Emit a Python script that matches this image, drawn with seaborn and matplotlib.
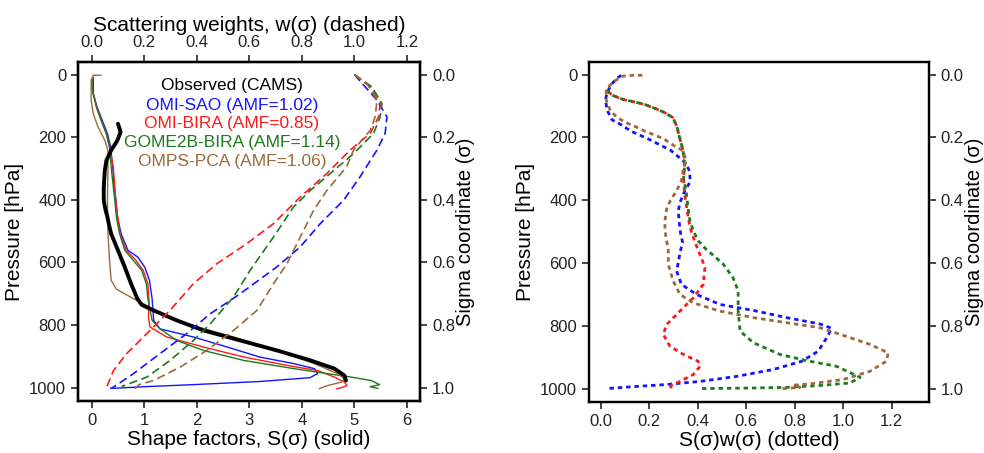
import numpy as np
import matplotlib
matplotlib.use("Agg")
import matplotlib.pyplot as plt
import seaborn as sns

sns.set_style("ticks")
plt.rcParams['font.family'] = ['Liberation Sans', 'DejaVu Sans']

# ---- shape factors S(sigma), solid lines (left panel, bottom axis) ----
obs_p = [157, 183, 210, 242, 274, 306, 359, 402, 430, 455, 480, 508, 561, 615, 668, 716, 735,
         753, 785, 817, 849, 881, 913, 939, 961, 977]
obs_S = [0.50, 0.55, 0.49, 0.37, 0.28, 0.25, 0.23, 0.23, 0.26, 0.30, 0.33, 0.37, 0.50, 0.63,
         0.75, 0.87, 0.95, 1.18, 1.62, 2.13, 2.83, 3.53, 4.17, 4.62, 4.81, 4.84]

sao_p = [10, 61, 103, 146, 189, 231, 295, 359, 402, 455, 508, 561, 583, 615, 657, 716, 785,
         812, 838, 870, 902, 923, 939, 955, 968, 980, 990, 997, 1002]
sao_S = [0.03, 0.03, 0.10, 0.20, 0.30, 0.36, 0.40, 0.43, 0.46, 0.49, 0.56, 0.69, 0.88, 1.01,
         1.10, 1.15, 1.18, 1.30, 1.94, 2.58, 3.20, 3.85, 4.24, 4.30, 4.15, 3.20, 1.94, 0.95, 0.40]

bira_p = [10, 29, 61, 103, 146, 189, 231, 295, 359, 423, 508, 561, 593, 625, 668, 721, 775,
          806, 838, 870, 902, 929, 945, 966, 982, 993, 1000, 1003]
bira_S = [0.03, 0.00, 0.03, 0.09, 0.18, 0.28, 0.34, 0.41, 0.44, 0.47, 0.54, 0.66, 0.84, 0.98,
          1.07, 1.09, 1.08, 1.11, 1.43, 2.13, 2.90, 3.73, 4.30, 4.62, 4.81, 4.86, 4.75, 4.66]

gome_p = [10, 29, 61, 103, 146, 189, 231, 295, 402, 455, 508, 561, 593, 625, 668, 716, 785,
          812, 849, 881, 913, 939, 955, 966, 977, 990, 997, 1002]
gome_S = [0.03, 0.00, 0.03, 0.09, 0.18, 0.28, 0.34, 0.37, 0.44, 0.47, 0.53, 0.63, 0.79, 0.95,
          1.04, 1.07, 1.15, 1.30, 1.62, 2.13, 2.90, 3.85, 4.49, 4.94, 5.32, 5.48, 5.30, 5.45]

omps_p = [2, 2, 18, 82, 125, 167, 210, 242, 295, 402, 508, 593, 657, 685, 705, 732, 764, 796,
          838, 881, 923, 955, 971, 982, 993, 1003]
omps_S = [0.18, 0.03, -0.01, -0.01, 0.03, 0.12, 0.25, 0.31, 0.31, 0.30, 0.31, 0.34, 0.37, 0.47,
          0.68, 0.99, 1.30, 1.82, 2.70, 3.54, 4.24, 4.68, 4.81, 4.75, 4.49, 4.33]

# ---- scattering weights w(sigma), dashed lines (left panel, top axis) ----
sao_wp = [0, 82, 135, 188, 241, 326, 401, 476, 550, 614, 700, 764, 827, 891, 955, 998, 1003]
sao_w = [1.00, 1.086, 1.124, 1.117, 1.086, 1.022, 0.959, 0.870, 0.794, 0.705, 0.565, 0.451,
         0.362, 0.260, 0.159, 0.083, 0.070]

bira_wp = [0, 39, 93, 135, 188, 241, 316, 391, 476, 540, 604, 668, 753, 827, 891, 945, 998]
bira_w = [1.00, 1.06, 1.098, 1.092, 1.06, 0.984, 0.895, 0.794, 0.692, 0.590, 0.476, 0.387,
          0.298, 0.210, 0.133, 0.083, 0.057]

gome_wp = [0, 39, 93, 135, 188, 252, 316, 370, 423, 519, 625, 710, 796, 849, 913, 966, 996]
gome_w = [1.00, 1.067, 1.105, 1.098, 1.073, 0.997, 0.908, 0.832, 0.768, 0.692, 0.603, 0.540,
          0.451, 0.387, 0.298, 0.210, 0.114]

omps_wp = [0, 29, 82, 135, 178, 241, 295, 370, 433, 519, 604, 668, 753, 817, 881, 934, 977,
           990, 1003]
omps_w = [1.00, 1.048, 1.086, 1.079, 1.060, 0.997, 0.970, 0.895, 0.845, 0.794, 0.743, 0.692,
          0.629, 0.540, 0.438, 0.337, 0.235, 0.180, 0.165]

# ---- S(sigma)*w(sigma), dotted lines (right panel) ----
sao_sp = [2, 10, 30, 60, 82, 114, 144, 162, 180, 194, 208, 226, 240, 260, 284, 311, 343, 370,
          407, 434, 471, 503, 535, 567, 599, 625, 668, 700, 732, 751, 774, 794, 808, 838, 881,
          913, 939, 961, 977, 987, 993, 1000]
sao_sw = [0.085, 0.07, 0.045, 0.025, 0.02, 0.027, 0.047, 0.09, 0.124, 0.165, 0.205, 0.25, 0.287,
          0.318, 0.353, 0.368, 0.368, 0.347, 0.327, 0.32, 0.324, 0.329, 0.338, 0.327, 0.32, 0.313,
          0.333, 0.395, 0.492, 0.63, 0.767, 0.904, 0.953, 0.932, 0.897, 0.829, 0.712, 0.561, 0.41,
          0.272, 0.148, 0.022]

bira_sp = [55, 66, 79, 87, 95, 107, 121, 137, 167, 199, 236, 268, 300, 332, 370, 402, 434, 471,
           503, 535, 567, 599, 615, 668, 711, 753, 796, 827, 865, 891, 913, 929, 955, 977, 989,
           1000]
bira_sw = [0.03, 0.05, 0.092, 0.14, 0.182, 0.222, 0.264, 0.298, 0.315, 0.325, 0.338, 0.345,
           0.345, 0.342, 0.345, 0.35, 0.357, 0.365, 0.375, 0.39, 0.406, 0.423, 0.43, 0.423, 0.382,
           0.327, 0.272, 0.258, 0.286, 0.341, 0.402, 0.41, 0.382, 0.327, 0.293, 0.286]

gome_sp = [48, 66, 79, 87, 95, 107, 121, 137, 167, 199, 236, 268, 300, 332, 370, 402, 434, 465,
           497, 529, 556, 577, 604, 647, 689, 753, 817, 854, 891, 911, 929, 964, 982, 990, 996,
           998, 1000]
gome_sw = [0.023, 0.05, 0.092, 0.14, 0.182, 0.222, 0.264, 0.298, 0.315, 0.325, 0.338, 0.345,
           0.345, 0.342, 0.352, 0.357, 0.362, 0.368, 0.382, 0.402, 0.434, 0.467, 0.506, 0.546,
           0.567, 0.567, 0.575, 0.63, 0.739, 0.85, 0.973, 1.07, 1.028, 0.904, 0.767, 0.63, 0.41]

omps_sp = [2, 2, 5, 24, 48, 82, 114, 135, 153, 167, 181, 194, 208, 226, 242, 274, 305, 338, 370,
           400, 428, 465, 497, 529, 561, 604, 657, 700, 727, 753, 774, 790, 806, 827, 859, 886,
           913, 945, 971, 985, 989, 996, 1001]
omps_sw = [0.172, 0.133, 0.09, 0.05, 0.023, 0.023, 0.04, 0.065, 0.105, 0.147, 0.184, 0.229,
           0.267, 0.302, 0.339, 0.353, 0.34, 0.333, 0.313, 0.288, 0.272, 0.265, 0.265, 0.272,
           0.279, 0.279, 0.299, 0.327, 0.382, 0.492, 0.63, 0.767, 0.904, 0.987, 1.11, 1.186,
           1.178, 1.11, 1.0, 0.862, 0.795, 0.822, 0.732]

names = ['OMI-SAO', 'OMI-BIRA', 'GOME2B-BIRA', 'OMPS-PCA']
amf = [1.02, 0.85, 1.14, 1.06]
colors = ['#1414ff', '#ff1a1a', '#1d7a1d', '#9b6a3c']

ylim = (1042, -40)
txt = '#222222'

fig = plt.figure(figsize=(9.84, 4.53), dpi=100)
ax1 = fig.add_axes([0.0793, 0.115, 0.3476, 0.748])
ax2 = fig.add_axes([0.5986, 0.113, 0.3455, 0.750])
ax1_top = ax1.twiny()
ax1_r = ax1.twinx()
ax2_r = ax2.twinx()

# left panel: shape factors (solid)
solid = [(sao_S, sao_p), (bira_S, bira_p), (gome_S, gome_p), (omps_S, omps_p)]
for (x, y), c in zip(solid, colors):
    sns.lineplot(x=x, y=y, ax=ax1, sort=False, estimator=None, color=c, lw=1.0)
sns.lineplot(x=obs_S, y=obs_p, ax=ax1, sort=False, estimator=None, color='black', lw=2.8)

# left panel: scattering weights (dashed)
dashed = [(sao_w, sao_wp), (bira_w, bira_wp), (gome_w, gome_wp), (omps_w, omps_wp)]
for (x, y), c in zip(dashed, colors):
    sns.lineplot(x=x, y=y, ax=ax1_top, sort=False, estimator=None, color=c, lw=1.2,
                 linestyle=(0, (5, 2.6)))

# right panel: S*w (dotted)
dotted = [(sao_sw, sao_sp), (bira_sw, bira_sp), (gome_sw, gome_sp), (omps_sw, omps_sp)]
for (x, y), c in zip(dotted, colors):
    sns.lineplot(x=x, y=y, ax=ax2, sort=False, estimator=None, color=c, lw=2.0,
                 linestyle=(0, (1.6, 1.4)))

# legend as coloured text
ax1.text(0.45, 0.932, 'Observed (CAMS)', transform=ax1.transAxes, ha='center', va='center',
         fontsize=12.5, color='black')
for i, (n, a, c) in enumerate(zip(names, amf, colors)):
    ax1.text(0.45, 0.873 - i * 0.0555, f'{n} (AMF={a:.2f})', transform=ax1.transAxes,
             ha='center', va='center', fontsize=12.5, color=c)

# axes limits and ticks
ax1.set_xlim(-0.26, 6.25)
ax1_top.set_xlim(-0.052, 1.25)
ax2.set_xlim(-0.048, 1.354)
for a in (ax1, ax1_top, ax2):
    a.set_ylim(*ylim)
ax1_r.set_ylim(ylim[0] / 1000, ylim[1] / 1000)
ax2_r.set_ylim(ylim[0] / 1000, ylim[1] / 1000)

ax1.set_xticks(range(0, 7))
ax1_top.set_xticks(np.arange(0, 1.21, 0.2))
ax1_top.set_xticklabels([f'{v:.1f}' for v in np.arange(0, 1.21, 0.2)])
ax2.set_xticks(np.arange(0, 1.21, 0.2))
ax2.set_xticklabels([f'{v:.1f}' for v in np.arange(0, 1.21, 0.2)])
for a in (ax1, ax2):
    a.set_yticks(range(0, 1001, 200))
for a in (ax1_r, ax2_r):
    a.set_yticks(np.arange(0, 1.01, 0.2))
    a.set_yticklabels([f'{v:.1f}' for v in np.arange(0, 1.01, 0.2)])

ax1.set_xlabel('Shape factors, S(σ) (solid)', fontsize=15, color='black', labelpad=2)
ax1_top.set_xlabel('Scattering weights, w(σ) (dashed)', fontsize=15, color='black',
                   labelpad=3)
ax2.set_xlabel('S(σ)w(σ) (dotted)', fontsize=15, color='black', labelpad=2)
for a in (ax1, ax2):
    a.set_ylabel('Pressure [hPa]', fontsize=15, color='black', labelpad=4)
for a in (ax1_r, ax2_r):
    a.set_ylabel('Sigma coordinate (σ)', fontsize=14.5, color='black', labelpad=1)

for a in (ax1, ax1_top, ax1_r, ax2, ax2_r):
    a.tick_params(labelsize=12, labelcolor=txt, length=5, width=1.2, direction='out')
    for s in a.spines.values():
        s.set_linewidth(1.6)
        s.set_color('black')

fig.savefig('out.png', dpi=100)
